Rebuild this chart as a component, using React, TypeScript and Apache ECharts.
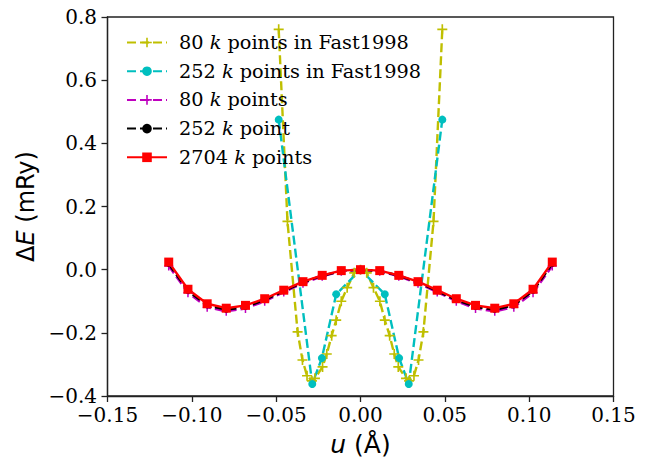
import React, { useEffect, useRef } from "react";
import * as echarts from "echarts";

// ---- data ----
const xTicks = [-0.15, -0.1, -0.05, 0, 0.05, 0.1, 0.15];
const yTicks = [-0.4, -0.2, 0, 0.2, 0.4, 0.6, 0.8];

const fast80U = [-0.0485, -0.0433, -0.0373, -0.0344, -0.0317, -0.0288, -0.027, -0.0225, -0.02, -0.0171, -0.0144, -0.0114, -0.0079, -0.0037, 0, 0.0037, 0.0077, 0.0115, 0.0144, 0.0173, 0.02, 0.0224, 0.027, 0.0288, 0.0317, 0.0344, 0.0373, 0.0433, 0.0485];
const fast80E = [0.761, 0.153, -0.197, -0.286, -0.336, -0.352, -0.344, -0.308, -0.267, -0.209, -0.16, -0.1, -0.057, -0.01, 0, -0.01, -0.057, -0.1, -0.16, -0.209, -0.267, -0.308, -0.344, -0.352, -0.336, -0.286, -0.197, 0.153, 0.761];

const fast252U = [-0.0485, -0.0286, -0.0229, -0.0144, 0, 0.0144, 0.0229, 0.0286, 0.0485];
const fast252E = [0.475, -0.362, -0.28, -0.078, 0, -0.078, -0.28, -0.362, 0.475];

const gridU = [-0.1137, -0.1023, -0.0909, -0.0796, -0.0682, -0.0568, -0.0455, -0.0341, -0.0227, -0.0114, 0, 0.0114, 0.0227, 0.0341, 0.0455, 0.0568, 0.0682, 0.0796, 0.0909, 0.1023, 0.1137];
const k80E = [0.012, -0.073, -0.119, -0.132, -0.123, -0.1, -0.071, -0.043, -0.021, -0.005, 0, -0.005, -0.021, -0.043, -0.071, -0.1, -0.123, -0.132, -0.119, -0.073, 0.012];
const k252E = [0.018, -0.067, -0.113, -0.127, -0.118, -0.096, -0.068, -0.04, -0.019, -0.004, 0, -0.004, -0.019, -0.04, -0.068, -0.096, -0.118, -0.127, -0.113, -0.067, 0.018];
const k2704E = [0.024, -0.062, -0.108, -0.122, -0.113, -0.092, -0.065, -0.038, -0.018, -0.003, 0, -0.003, -0.018, -0.038, -0.065, -0.092, -0.113, -0.122, -0.108, -0.062, 0.024];

const seriesNames = [
  "80 k points in Fast1998",
  "252 k points in Fast1998",
  "80 k points",
  "252 k point",
  "2704 k points",
];

const zip = (u: number[], e: number[]) => u.map((x, i) => [x, e[i]]);

const PLUS = "path://M-1,-6h2v5h5v2h-5v5h-2v-5h-5v-2h5z";
const MINUS = "\u2212";
const fmt = (v: number, d: number) => {
  const r = Math.round(v * 1e6) / 1e6;
  if (Math.abs(r) < 1e-9) return (0).toFixed(d);
  return (r < 0 ? MINUS : "") + Math.abs(r).toFixed(d);
};

const SERIF = "DejaVu Serif";
const SANS = "DejaVu Sans";

export default function App() {
  const ref = useRef<HTMLDivElement>(null);
  useEffect(() => {
    document.body.style.margin = "0";
    if (!ref.current) return;
    const chart = echarts.init(ref.current, undefined, { renderer: "svg" });
    const dash = [9, 4];
    chart.setOption({
      animation: false,
      backgroundColor: "#ffffff",
      grid: {
        left: 107.5,
        right: 36.5,
        top: 17,
        bottom: 65,
        show: true,
        borderColor: "#222",
        borderWidth: 1.3,
        backgroundColor: "transparent",
      },
      legend: {
        orient: "vertical",
        left: 121,
        top: 28,
        itemWidth: 40,
        itemHeight: 12,
        itemGap: 9.7,
        data: seriesNames,
        formatter: (name: string) => {
          const i = name.indexOf(" k ");
          return `{r|${name.slice(0, i)}\u00a0}{i|k}{r|\u00a0${name.slice(i + 3)}}`;
        },
        textStyle: {
          padding: [0, 0, 0, 7],
          rich: {
            r: { fontFamily: SERIF, fontSize: 19.3, color: "#000", lineHeight: 20 },
            i: { fontFamily: SERIF, fontSize: 19.3, fontStyle: "italic", color: "#000", lineHeight: 20 },
          },
        },
      },
      xAxis: {
        type: "value",
        min: -0.15,
        max: 0.15,
        interval: 0.05,
        splitLine: { show: false },
        axisLine: { onZero: false, lineStyle: { color: "#222", width: 1.3 } },
        axisTick: { show: true, inside: false, length: 6, lineStyle: { color: "#222", width: 1.3 } },
        axisLabel: {
          formatter: (v: number) => fmt(v, 2),
          fontFamily: SERIF,
          fontSize: 20,
          color: "#000",
          margin: 9,
          showMinLabel: true,
          showMaxLabel: true,
        },
        name: "{i|u}{d|\u00a0(Å)}",
        nameLocation: "middle",
        nameGap: 36,
        nameTextStyle: {
          rich: {
            i: { fontFamily: SANS, fontStyle: "italic", fontSize: 25, color: "#000" },
            d: { fontFamily: SANS, fontSize: 25, color: "#000" },
          },
        },
      },
      yAxis: {
        type: "value",
        min: -0.4,
        max: 0.8,
        interval: 0.2,
        splitLine: { show: false },
        axisLine: { onZero: false, lineStyle: { color: "#222", width: 1.3 } },
        axisTick: { show: true, inside: false, length: 6, lineStyle: { color: "#222", width: 1.3 } },
        axisLabel: {
          formatter: (v: number) => fmt(v, 1),
          fontFamily: SERIF,
          fontSize: 20,
          color: "#000",
          margin: 10.5,
          showMinLabel: true,
          showMaxLabel: true,
        },
        name: "{d|Δ}{i|E}{d|\u00a0(mRy)}",
        nameLocation: "middle",
        nameRotate: 90,
        nameGap: 62,
        nameTextStyle: {
          rich: {
            i: { fontFamily: SANS, fontStyle: "italic", fontSize: 24, color: "#000" },
            d: { fontFamily: SANS, fontSize: 24, color: "#000" },
          },
        },
      },
      series: [
        {
          name: seriesNames[0],
          type: "line",
          data: zip(fast80U, fast80E),
          symbol: PLUS,
          symbolSize: 10,
          color: "#bfbf00",
          itemStyle: { color: "#bfbf00" },
          lineStyle: { color: "#bfbf00", width: 2.4, type: dash },
        },
        {
          name: seriesNames[1],
          type: "line",
          data: zip(fast252U, fast252E),
          symbol: "circle",
          symbolSize: 8,
          color: "#00bfbf",
          itemStyle: { color: "#00bfbf" },
          lineStyle: { color: "#00bfbf", width: 2.4, type: dash },
        },
        {
          name: seriesNames[2],
          type: "line",
          data: zip(gridU, k80E),
          symbol: PLUS,
          symbolSize: 9,
          color: "#bf00bf",
          itemStyle: { color: "#bf00bf" },
          lineStyle: { color: "#bf00bf", width: 2.4, type: dash },
        },
        {
          name: seriesNames[3],
          type: "line",
          data: zip(gridU, k252E),
          symbol: "circle",
          symbolSize: 6,
          color: "#000000",
          itemStyle: { color: "#000000" },
          lineStyle: { color: "#000000", width: 2.4, type: dash },
        },
        {
          name: seriesNames[4],
          type: "line",
          data: zip(gridU, k2704E),
          symbol: "rect",
          symbolSize: 9,
          color: "#ff0000",
          itemStyle: { color: "#ff0000" },
          lineStyle: { color: "#ff0000", width: 2.4, type: "solid" },
        },
      ],
    });
    return () => chart.dispose();
  }, []);
  return <div ref={ref} style={{ width: 650, height: 462 }} />;
}
